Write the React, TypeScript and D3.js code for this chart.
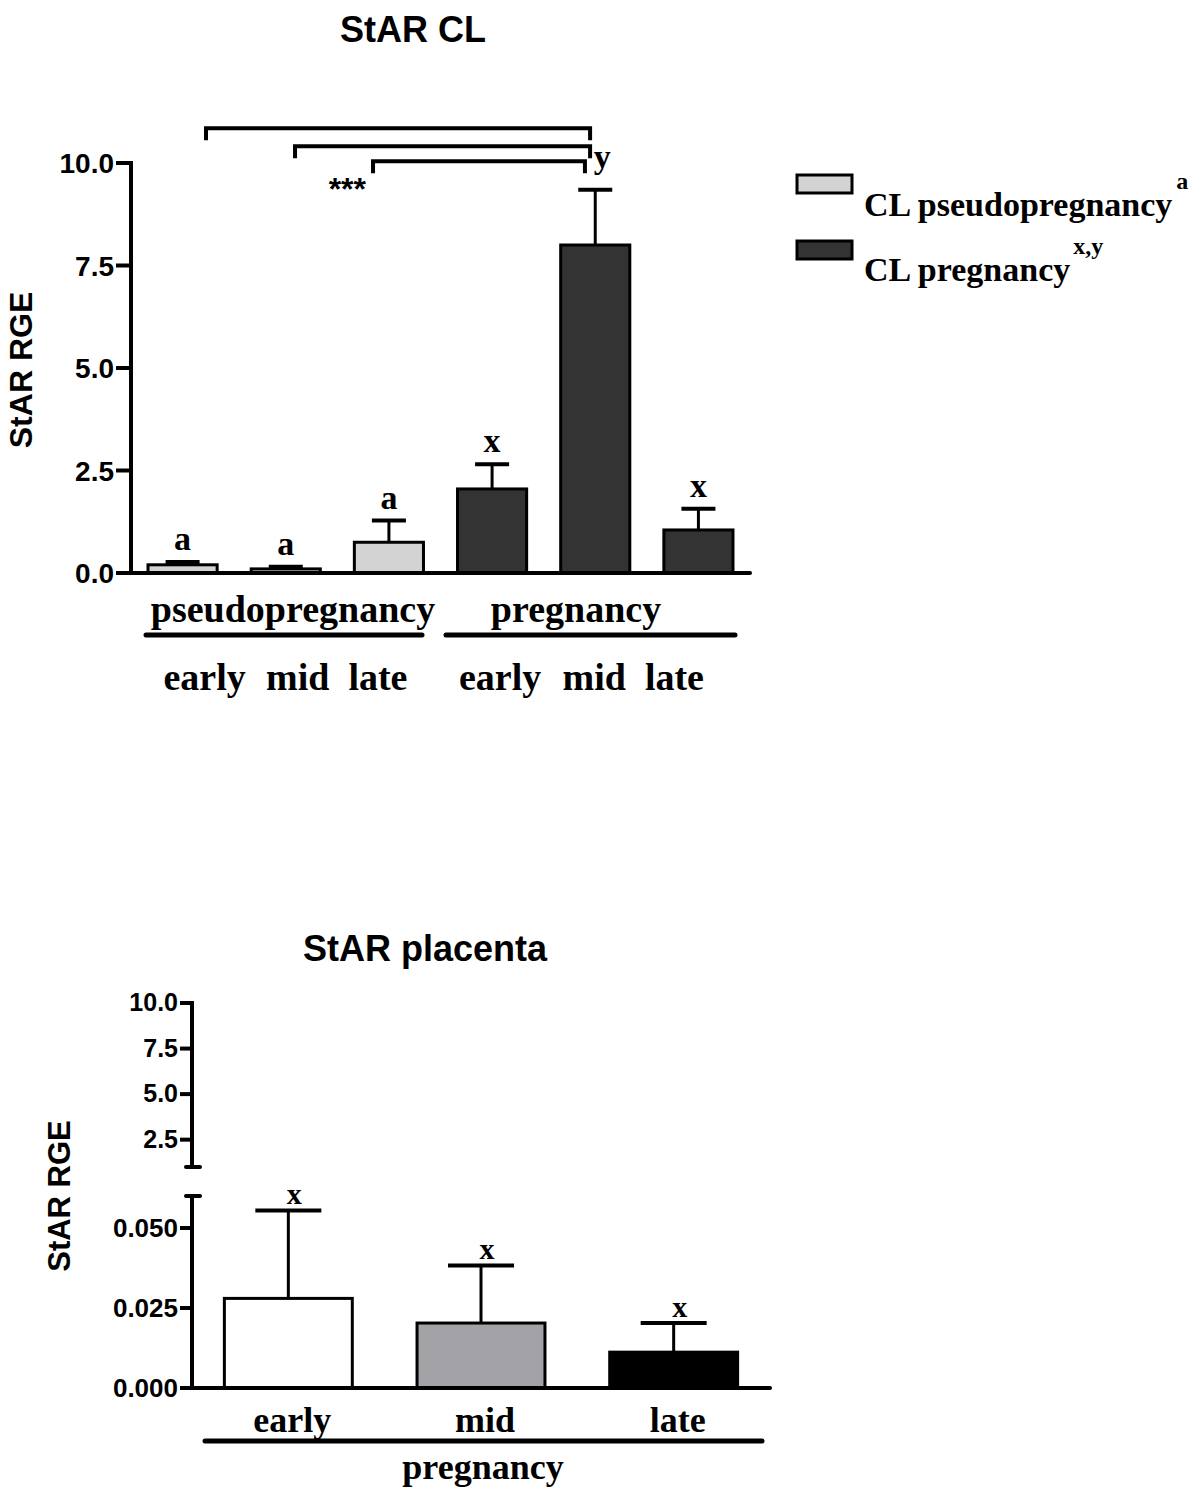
import React from "react";
import * as d3 from "d3";

// ---------- Data ----------
const clCategories = ["pp-early", "pp-mid", "pp-late", "p-early", "p-mid", "p-late"];
const clGroup = ["pseudo", "pseudo", "pseudo", "preg", "preg", "preg"];
const clMeans = [0.2, 0.1, 0.75, 2.05, 8.0, 1.05];
const clErrTop = [0.27, 0.15, 1.28, 2.65, 9.35, 1.57];
const clLetters = ["a", "a", "a", "x", "y", "x"];
const clTicks = [0, 2.5, 5, 7.5, 10];
const stageLabels = ["early", "mid", "late", "early", "mid", "late"];

const plCategories = ["early", "mid", "late"];
const plMeans = [0.028, 0.0203, 0.0112];
const plErrTop = [0.0555, 0.0383, 0.0203];
const plLetters = ["x", "x", "x"];
const plTicksUpper = [2.5, 5, 7.5, 10];
const plTicksLower = [0, 0.025, 0.05];

const SANS = "'Liberation Sans', Arial, sans-serif";
const SERIF = "'Liberation Serif', 'Times New Roman', serif";

export default function App() {
  const W = 1200;
  const H = 1497;

  // ---------- top chart scales ----------
  const xTop = d3.scaleBand<string>().domain(clCategories).range([131, 750]).paddingInner(0.33).paddingOuter(0.165);
  const yTop = d3.scaleLinear().domain([0, 10]).range([573, 163]);
  const bwT = xTop.bandwidth();
  const cx = (i: number) => (xTop(clCategories[i]) as number) + bwT / 2;
  const fillTop = (g: string) => (g === "pseudo" ? "#d3d3d3" : "#333333");

  // brackets (significance)
  const brackets = [
    { from: 0, fromOff: 0.227, to: 4, toOff: -0.05, level: 10.85 },
    { from: 1, fromOff: 0.09, to: 4, toOff: -0.05, level: 10.41 },
    { from: 2, fromOff: -0.154, to: 4, toOff: -0.1, level: 10.04 },
  ];
  const legH = 12;

  // ---------- bottom chart scales ----------
  const xBot = d3.scaleBand<string>().domain(plCategories).range([192, 770]).paddingInner(0.336).paddingOuter(0.168);
  const yUp = d3.scaleLinear().domain([1, 10]).range([1167, 1003]);
  const yLow = d3.scaleLinear().domain([0, 0.06]).range([1388, 1196]);
  const bwB = xBot.bandwidth();
  const cxB = (i: number) => (xBot(plCategories[i]) as number) + bwB / 2;
  const fillBot = ["#ffffff", "#a3a3a7", "#000000"];

  const stageOffsets = [22, 12, -11, 8, -1, -24];

  return (
    <svg width={W} height={H} style={{ display: "block", position: "absolute", left: 0, top: 0, background: "#fff" }}>
      <rect x={0} y={0} width={W} height={H} fill="#fff" />
      {/* ================= TOP CHART ================= */}
      <text x={413} y={42} textAnchor="middle" fontFamily={SANS} fontWeight="bold" fontSize={36}>StAR CL</text>

      {/* y axis */}
      <line x1={131} x2={131} y1={yTop(10) - 2} y2={yTop(0) + 2} stroke="#000" strokeWidth={4} />
      {clTicks.map((t) => (
        <g key={t}>
          <line x1={116} x2={131} y1={yTop(t)} y2={yTop(t)} stroke="#000" strokeWidth={4} />
          <text x={114} y={yTop(t) + 10} textAnchor="end" fontFamily={SANS} fontWeight="bold" fontSize={28}>{t.toFixed(1)}</text>
        </g>
      ))}
      <text transform={`translate(32, ${370}) rotate(-90)`} textAnchor="middle" fontFamily={SANS} fontWeight="bold" fontSize={32}>StAR RGE</text>

      {/* bars */}
      {clCategories.map((c, i) => (
        <g key={c}>
          <line x1={cx(i)} x2={cx(i)} y1={yTop(clMeans[i])} y2={yTop(clErrTop[i])} stroke="#000" strokeWidth={3} />
          <line x1={cx(i) - 17} x2={cx(i) + 17} y1={yTop(clErrTop[i])} y2={yTop(clErrTop[i])} stroke="#000" strokeWidth={4} />
          <rect x={xTop(c)} y={yTop(clMeans[i])} width={bwT} height={yTop(0) - yTop(clMeans[i])} fill={fillTop(clGroup[i])} stroke="#000" strokeWidth={3} />
          <text x={cx(i) + (clLetters[i] === "y" ? 7 : 0)} y={clLetters[i] === "y" ? yTop(10) + 5 : yTop(clErrTop[i]) - 12} textAnchor="middle" fontFamily={SERIF} fontWeight="bold" fontSize={34}>{clLetters[i]}</text>
        </g>
      ))}
      {/* x axis */}
      <line x1={129} x2={750} y1={yTop(0)} y2={yTop(0)} stroke="#000" strokeWidth={4} strokeLinecap="round" />

      {/* brackets */}
      {brackets.map((b, k) => {
        const x1 = cx(b.from) + b.fromOff * xTop.step();
        const x2 = cx(b.to) + b.toOff * xTop.step();
        const y = yTop(b.level);
        return (
          <path key={k} d={`M${x1},${y + legH} V${y} H${x2} V${y + legH}`} fill="none" stroke="#000" strokeWidth={4} />
        );
      })}
      <text x={(cx(1) + cx(2)) / 2 + 10} y={yTop(9.1)} textAnchor="middle" fontFamily={SANS} fontWeight="bold" fontSize={32}>***</text>

      {/* group labels */}
      <text x={293} y={622} textAnchor="middle" fontFamily={SERIF} fontWeight="bold" fontSize={38}>pseudopregnancy</text>
      <line x1={146} x2={422} y1={635} y2={635} stroke="#000" strokeWidth={5} strokeLinecap="round" />
      <text x={576} y={622} textAnchor="middle" fontFamily={SERIF} fontWeight="bold" fontSize={38}>pregnancy</text>
      <line x1={446} x2={735} y1={635} y2={635} stroke="#000" strokeWidth={5} strokeLinecap="round" />
      {stageLabels.map((s, i) => (
        <text key={i} x={cx(i) + stageOffsets[i]} y={690} textAnchor="middle" fontFamily={SERIF} fontWeight="bold" fontSize={38}>{s}</text>
      ))}

      {/* legend */}
      <rect x={797} y={175} width={55} height={18} fill="#d3d3d3" stroke="#000" strokeWidth={3} />
      <text x={864} y={216} fontFamily={SERIF} fontWeight="bold" fontSize={34}>
        CL pseudopregnancy
        <tspan dx={4} dy={-27} fontSize={24}>a</tspan>
      </text>
      <rect x={797} y={241} width={55} height={18} fill="#333333" stroke="#000" strokeWidth={3} />
      <text x={864} y={281} fontFamily={SERIF} fontWeight="bold" fontSize={34}>
        CL pregnancy
        <tspan dx={3} dy={-27} fontSize={24}>x,y</tspan>
      </text>

      {/* ================= BOTTOM CHART ================= */}
      <text x={425} y={961} textAnchor="middle" fontFamily={SANS} fontWeight="bold" fontSize={36}>StAR placenta</text>

      {/* upper axis segment */}
      <line x1={192} x2={192} y1={yUp(10) - 2} y2={yUp(1)} stroke="#000" strokeWidth={4} />
      <line x1={186} x2={200} y1={yUp(1)} y2={yUp(1)} stroke="#000" strokeWidth={4} strokeLinecap="round" />
      {plTicksUpper.map((t) => (
        <g key={"u" + t}>
          <line x1={180} x2={192} y1={yUp(t)} y2={yUp(t)} stroke="#000" strokeWidth={4} />
          <text x={178} y={yUp(t) + 8} textAnchor="end" fontFamily={SANS} fontWeight="bold" fontSize={25}>{t.toFixed(1)}</text>
        </g>
      ))}
      {/* lower axis segment */}
      <line x1={192} x2={192} y1={yLow(0.06)} y2={yLow(0) + 2} stroke="#000" strokeWidth={4} />
      <line x1={186} x2={200} y1={yLow(0.06)} y2={yLow(0.06)} stroke="#000" strokeWidth={4} strokeLinecap="round" />
      {plTicksLower.map((t) => (
        <g key={"l" + t}>
          <line x1={180} x2={192} y1={yLow(t)} y2={yLow(t)} stroke="#000" strokeWidth={4} />
          <text x={178} y={yLow(t) + 9} textAnchor="end" fontFamily={SANS} fontWeight="bold" fontSize={26}>{t.toFixed(3)}</text>
        </g>
      ))}
      <text transform={`translate(70, 1196) rotate(-90)`} textAnchor="middle" fontFamily={SANS} fontWeight="bold" fontSize={31}>StAR RGE</text>

      {plCategories.map((c, i) => (
        <g key={c}>
          <line x1={cxB(i)} x2={cxB(i)} y1={yLow(plMeans[i])} y2={yLow(plErrTop[i])} stroke="#000" strokeWidth={3} />
          <line x1={cxB(i) - 33} x2={cxB(i) + 33} y1={yLow(plErrTop[i])} y2={yLow(plErrTop[i])} stroke="#000" strokeWidth={4} />
          <rect x={xBot(c)} y={yLow(plMeans[i])} width={bwB} height={yLow(0) - yLow(plMeans[i])} fill={fillBot[i]} stroke="#000" strokeWidth={3} />
          <text x={cxB(i) + 6} y={yLow(plErrTop[i]) - 6} textAnchor="middle" fontFamily={SERIF} fontWeight="bold" fontSize={30}>{plLetters[i]}</text>
          <text x={cxB(i) + 4} y={1432} textAnchor="middle" fontFamily={SERIF} fontWeight="bold" fontSize={36}>{c}</text>
        </g>
      ))}
      <line x1={190} x2={770} y1={yLow(0)} y2={yLow(0)} stroke="#000" strokeWidth={4} strokeLinecap="round" />
      <line x1={205} x2={762} y1={1441} y2={1441} stroke="#000" strokeWidth={5} strokeLinecap="round" />
      <text x={483} y={1479} textAnchor="middle" fontFamily={SERIF} fontWeight="bold" fontSize={36}>pregnancy</text>
    </svg>
  );
}
